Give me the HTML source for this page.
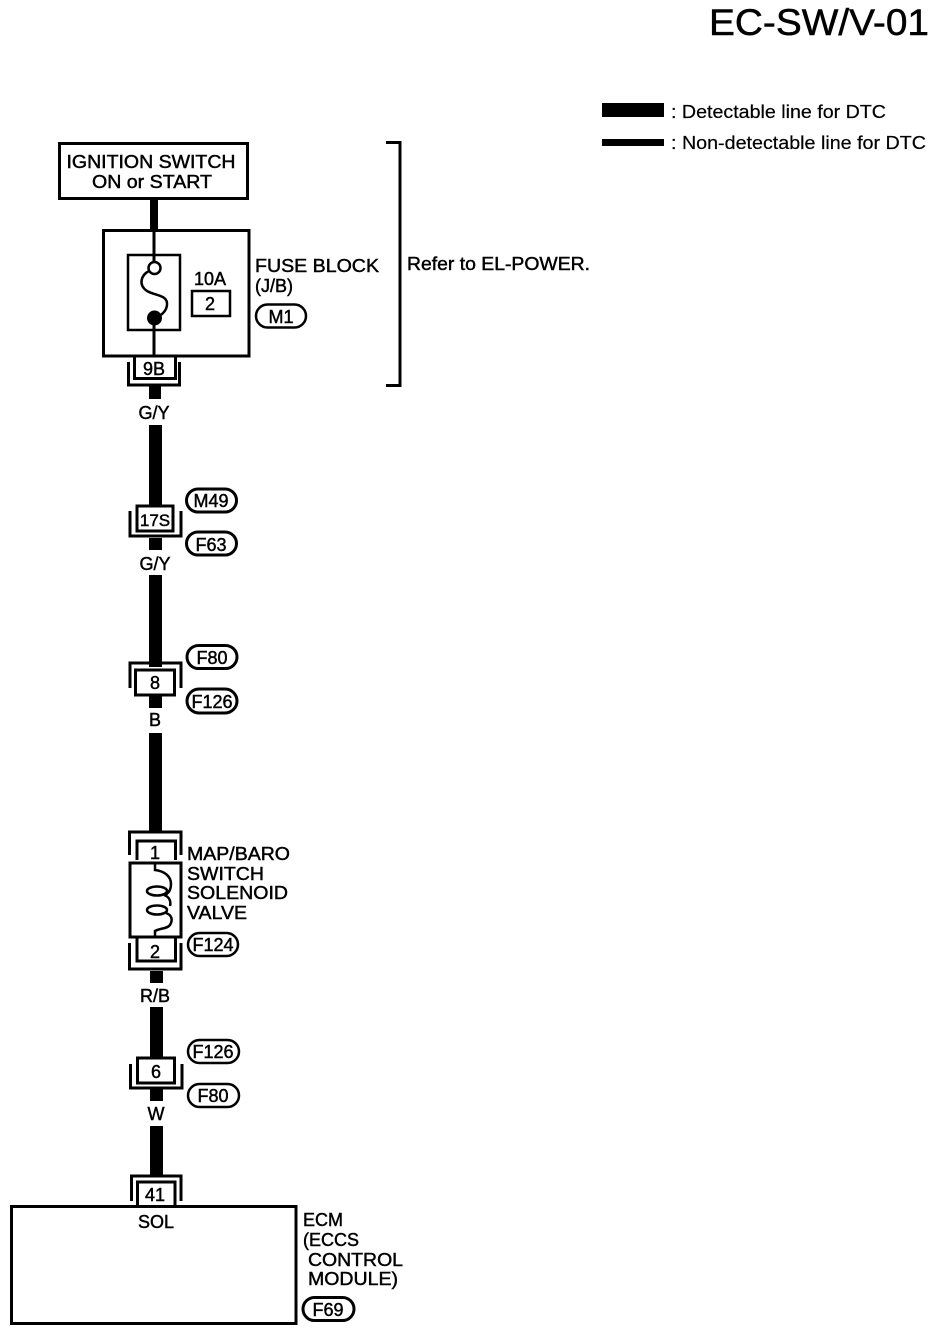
<!DOCTYPE html>
<html>
<head>
<meta charset="utf-8">
<style>
html,body{margin:0;padding:0;background:#fff;width:944px;height:1332px;overflow:hidden}
svg{display:block}
text{font-family:"Liberation Sans",sans-serif;fill:#000;stroke:#000;stroke-width:.45}
</style>
</head>
<body>
<svg width="944" height="1332" viewBox="0 0 944 1332" xmlns="http://www.w3.org/2000/svg">
<rect width="944" height="1332" fill="#fff"/>
<g font-size="37"><text x="709" y="35" textLength="220" lengthAdjust="spacingAndGlyphs" style="stroke-width:.5">EC-SW/V-01</text></g>

<!-- legend -->
<rect x="602" y="103" width="62" height="14"/>
<rect x="602" y="139" width="62" height="7"/>
<g font-size="18.5" style="stroke-width:.2">
<text x="671" y="118" textLength="215" lengthAdjust="spacingAndGlyphs" style="stroke-width:.2">: Detectable line for DTC</text>
<text x="671" y="149" textLength="255" lengthAdjust="spacingAndGlyphs" style="stroke-width:.2">: Non-detectable line for DTC</text>
</g>

<!-- thick wires -->
<g fill="#000">
<rect x="150" y="199" width="8" height="31"/>
<rect x="149" y="386" width="12" height="13"/>
<rect x="149" y="425" width="13" height="85"/>
<rect x="149" y="538" width="13" height="12"/>
<rect x="149" y="575" width="13" height="92"/>
<rect x="149" y="696" width="13" height="12"/>
<rect x="149" y="733" width="13" height="99"/>
<rect x="150" y="971" width="13" height="12"/>
<rect x="150" y="1007" width="13" height="52"/>
<rect x="150" y="1089" width="13" height="12"/>
<rect x="150" y="1126" width="13" height="50"/>
</g>

<g fill="none" stroke="#000">
<!-- ignition -->
<rect x="59.500" y="143.500" width="188" height="55" stroke-width="3" fill="#fff"/>
<!-- fuse block -->
<rect x="103.500" y="230.500" width="145.500" height="125.500" stroke-width="3"/>
<rect x="128" y="255" width="52" height="75" stroke-width="2.500"/>
<path d="M154 230V262M154 318V357" stroke-width="3"/>
<circle cx="154.500" cy="268" r="6" stroke-width="2.500"/>
<path d="M149 271C141 275 138 285 147 291C156 296 168 295 167 305C166.500 310 163 314 159 316" stroke-width="2.500"/>
<rect x="192" y="291" width="38" height="25" stroke-width="2.500"/>

<!-- refer bracket -->
<path d="M386 142.500H400V385.500H386" stroke-width="3"/>

<!-- 9B connector -->
<path d="M134.500 357V378.500H175.500V357" stroke-width="3"/>
<path d="M128.500 362V385H179.500V362" stroke-width="3"/>

<!-- 17S connector -->
<rect x="137" y="506" width="36" height="25" stroke-width="3" fill="#fff"/>
<path d="M130 511V536H181V511" stroke-width="3"/>

<!-- 8 connector -->
<path d="M130 688V663H181V688" stroke-width="3"/>
<rect x="135.500" y="670" width="39" height="25" stroke-width="3" fill="#fff"/>

<!-- solenoid -->
<path d="M129.500 855V832H181V855" stroke-width="3"/>
<path d="M137 860V841H175.500V860" stroke-width="3"/>
<rect x="130" y="863" width="51" height="74" stroke-width="3" fill="#fff"/>
<path d="M155 863V870C164 871 171 876 171 884C171 889 169 893 165 895" stroke-width="2.500"/>
<ellipse cx="157" cy="891" rx="10" ry="4.500" stroke-width="2.500"/>
<ellipse cx="157" cy="910" rx="10" ry="4.500" stroke-width="2.500"/>
<path d="M164 895C170 897 171 902 170 906M166 913C172 915 173 920 170 925C167 929 160 928 155 931V937" stroke-width="2.500"/>
<path d="M137 937V961H175.500V937" stroke-width="3"/>
<path d="M129.500 943V969H181V943" stroke-width="3"/>

<!-- 6 connector -->
<rect x="137.500" y="1058" width="37" height="25" stroke-width="3" fill="#fff"/>
<path d="M130.500 1064V1088H182V1064" stroke-width="3"/>

<!-- 41 connector -->
<path d="M131.500 1201V1176H181V1201" stroke-width="3"/>
<path d="M137.500 1206V1182H175V1206" stroke-width="3"/>

<!-- ECM -->
<rect x="11.500" y="1206.500" width="284.500" height="117" stroke-width="3"/>

<!-- pills -->
<rect x="256" y="304.500" width="50" height="23" rx="11.500" stroke-width="2.500"/>
<rect x="186.500" y="489" width="50" height="23" rx="11.500" stroke-width="3"/>
<rect x="186.500" y="532" width="50" height="23" rx="11.500" stroke-width="3"/>
<rect x="187" y="645.500" width="50" height="23" rx="11.500" stroke-width="3"/>
<rect x="187" y="689" width="50" height="24" rx="12" stroke-width="3"/>
<rect x="188" y="933" width="50" height="23" rx="11.500" stroke-width="2.500"/>
<rect x="188" y="1040" width="51" height="23" rx="11.500" stroke-width="2.500"/>
<rect x="188" y="1084" width="51" height="23" rx="11.500" stroke-width="2.500"/>
<rect x="303" y="1297.500" width="51" height="23" rx="11.500" stroke-width="3"/>
</g>
<circle cx="154.500" cy="318" r="7.500" fill="#000"/>

<g font-size="18">
<text x="151" y="168" text-anchor="middle" textLength="169" lengthAdjust="spacingAndGlyphs">IGNITION SWITCH</text>
<text x="152" y="188" text-anchor="middle" textLength="120" lengthAdjust="spacingAndGlyphs">ON or START</text>
<text x="255" y="272" textLength="124" lengthAdjust="spacingAndGlyphs">FUSE BLOCK</text>
<text x="255" y="292">(J/B)</text>
<text x="407" y="270" textLength="183" lengthAdjust="spacingAndGlyphs">Refer to EL-POWER.</text>
<text x="210" y="285" text-anchor="middle">10A</text>
<text x="210" y="310" text-anchor="middle">2</text>
<text x="281" y="323" text-anchor="middle">M1</text>
<text x="154" y="375" text-anchor="middle">9B</text>
<text x="154" y="419" text-anchor="middle">G/Y</text>
<text x="211" y="507" text-anchor="middle">M49</text>
<text x="155" y="526" text-anchor="middle" font-size="17">17S</text>
<text x="211" y="551" text-anchor="middle">F63</text>
<text x="155" y="570" text-anchor="middle">G/Y</text>
<text x="212" y="664" text-anchor="middle">F80</text>
<text x="155" y="689" text-anchor="middle">8</text>
<text x="212" y="708" text-anchor="middle">F126</text>
<text x="155" y="726" text-anchor="middle">B</text>
<text x="155" y="859" text-anchor="middle">1</text>
<text x="187" y="860" textLength="103" lengthAdjust="spacingAndGlyphs">MAP/BARO</text>
<text x="187" y="880" textLength="77" lengthAdjust="spacingAndGlyphs">SWITCH</text>
<text x="187" y="899" textLength="101" lengthAdjust="spacingAndGlyphs">SOLENOID</text>
<text x="187" y="919" textLength="60" lengthAdjust="spacingAndGlyphs">VALVE</text>
<text x="213" y="951" text-anchor="middle">F124</text>
<text x="155" y="958" text-anchor="middle">2</text>
<text x="155" y="1002" text-anchor="middle">R/B</text>
<text x="213" y="1058" text-anchor="middle">F126</text>
<text x="156" y="1078" text-anchor="middle">6</text>
<text x="213" y="1102" text-anchor="middle">F80</text>
<text x="156" y="1120" text-anchor="middle">W</text>
<text x="155" y="1201" text-anchor="middle">41</text>
<text x="156" y="1228" text-anchor="middle">SOL</text>
<text x="303" y="1226">ECM</text>
<text x="303" y="1246">(ECCS</text>
<text x="308" y="1266" textLength="95" lengthAdjust="spacingAndGlyphs">CONTROL</text>
<text x="308" y="1285" textLength="90" lengthAdjust="spacingAndGlyphs">MODULE)</text>
<text x="328" y="1316" text-anchor="middle">F69</text>
</g>
</svg>
</body>
</html>
